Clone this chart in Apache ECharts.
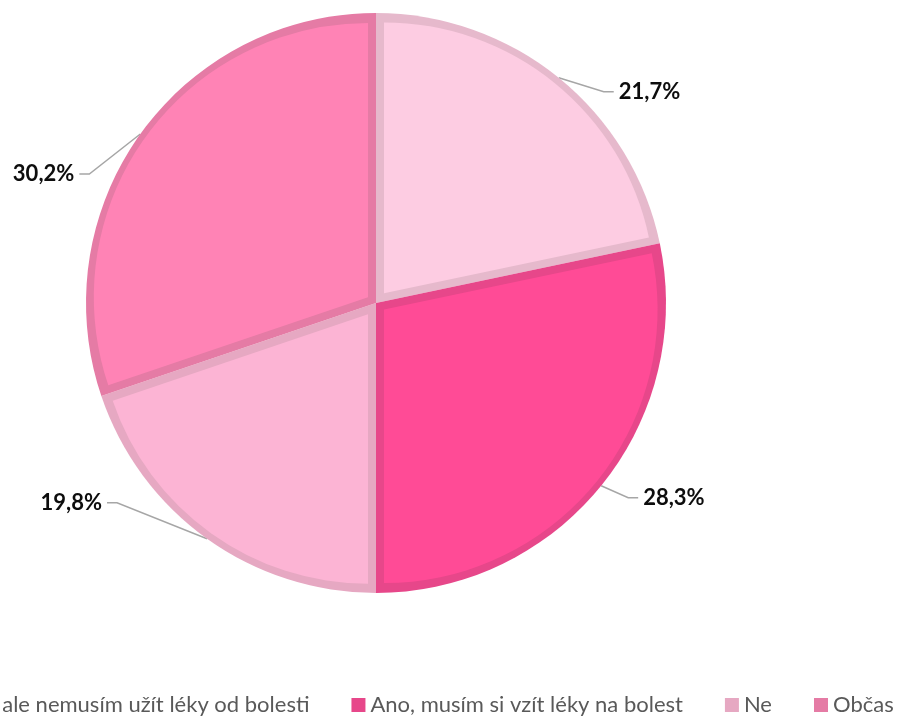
<!DOCTYPE html>
<html>
<head>
<meta charset="utf-8">
<script src="https://cdn.jsdelivr.net/npm/echarts@6/dist/echarts.min.js"></script>
<style>
  html, body { margin: 0; padding: 0; background: #ffffff; }
  #chart { width: 901px; height: 720px; }
</style>
</head>
<body>
<div id="chart"></div>
<script>
// Answers and their shares (percent)
const categories = [
  'Ano, ale nemusím užít léky od bolesti',
  'Ano, musím si vzít léky na bolest',
  'Ne',
  'Občas'
];
const shares = [21.7, 28.3, 19.8, 30.2];

// Slice fill and slice edge colours
const fillColors = ['#FDCCE2', '#FF4B96', '#FCB4D4', '#FF83B5'];
const edgeColors = ['#E6B9CC', '#E7478A', '#E6A8C2', '#E57BA5'];

// Leader line elbow, relative to where the line leaves the slice
const labelElbows = [[45, 14], [27, 12], [-90, -36], [-51, 40]];

const CX = 376, CY = 303, R = 290, EDGE = 8;
const FONT = 'Lato, "Liberation Sans", sans-serif';

const total = shares.reduce((a, b) => a + b, 0);

function fmt(v) {
  return v.toFixed(1).replace('.', ',') + '%';
}

// Outer layer: whole slices in the edge colour, carrying the labels
const series = [{
  type: 'pie',
  name: 'base',
  center: [CX, CY],
  radius: [0, R],
  startAngle: 90,
  clockwise: true,
  avoidLabelOverlap: false,
  silent: true,
  data: categories.map((c, i) => ({
    name: c,
    value: shares[i],
    itemStyle: { color: edgeColors[i] }
  })),
  itemStyle: { borderWidth: 0 },
  label: {
    show: true,
    position: 'outside',
    formatter: p => fmt(p.value),
    fontFamily: FONT,
    fontSize: 22,
    fontWeight: 'bold',
    color: '#0d0d0d'
  },
  labelLine: {
    show: true,
    length: 10,
    length2: 10,
    lineStyle: { color: '#A6A6A6', width: 1.5 }
  },
  labelLayout: function (p) {
    const e = labelElbows[p.dataIndex];
    const start = p.labelLinePoints[0];
    const side = e[0] >= 0 ? 1 : -1;
    const elbow = [start[0] + e[0], start[1] + e[1]];
    const end = [elbow[0] + side * 10, elbow[1]];
    return {
      x: end[0] + side * 5,
      y: end[1],
      align: side > 0 ? 'left' : 'right',
      verticalAlign: 'middle',
      labelLinePoints: [start, elbow, end]
    };
  }
}];

// Inner layer: each slice's fill, inset from its edges by EDGE pixels
let acc = 0;
shares.forEach((v, i) => {
  const span = v / total * 2 * Math.PI;
  const mid = acc + span / 2;          // clockwise from 12 o'clock
  acc += span;
  const shift = EDGE / Math.sin(span / 2);
  const r = R - EDGE - shift * (1 + Math.cos(span / 2)) / 2;
  series.push({
    type: 'pie',
    name: 'fill' + i,
    center: [CX + shift * Math.sin(mid), CY - shift * Math.cos(mid)],
    radius: [0, r],
    startAngle: 90,
    clockwise: true,
    silent: true,
    label: { show: false },
    labelLine: { show: false },
    emphasis: { disabled: true },
    data: categories.map((c, j) => ({
      name: c,
      value: shares[j],
      itemStyle: {
        color: j === i ? fillColors[j] : 'rgba(0,0,0,0)',
        borderWidth: 0
      }
    }))
  });
});

const chart = echarts.init(document.getElementById('chart'), null, { renderer: 'canvas' });
chart.setOption({
  animation: false,
  backgroundColor: '#ffffff',
  color: edgeColors,
  legend: {
    data: categories,
    left: -72,
    top: 689,
    orient: 'horizontal',
    icon: 'rect',
    itemWidth: 14,
    itemHeight: 14,
    itemGap: 42,
    selectedMode: false,
    textStyle: { fontFamily: FONT, fontSize: 22, color: '#595959' }
  },
  series: series
});
</script>
</body>
</html>
